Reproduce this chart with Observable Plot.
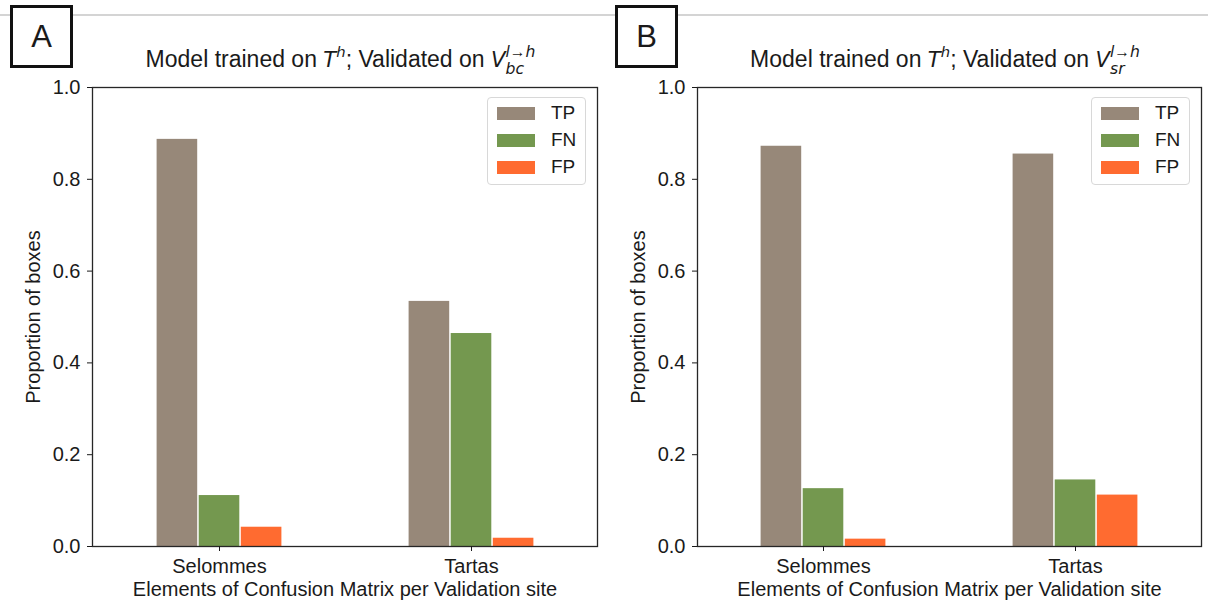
<!DOCTYPE html>
<html>
<head>
<meta charset="utf-8">
<script src="https://cdn.jsdelivr.net/npm/d3@7"></script>
<script src="https://cdn.jsdelivr.net/npm/@observablehq/plot@0.6"></script>
<style>
  html, body { margin: 0; padding: 0; background: #fff; }
  body { width: 1208px; height: 603px; position: relative; overflow: hidden;
         font-family: "Liberation Sans", Arial, sans-serif; color: #1a1a1a; }
  .rule { position: absolute; left: 0; top: 14px; width: 1208px; height: 2px; background: #d4d4d4; }
  .tag { position: absolute; top: 5px; width: 57px; height: 57px; border: 3px solid #111; background: #fff;
         font-size: 31px; line-height: 57px; text-align: center; }
  .panel { position: absolute; top: 0; }
  .title { position: absolute; top: 42px; font-size: 23px; white-space: nowrap; transform: translateX(-50%); }
  .title i { font-family: "DejaVu Sans", sans-serif; font-style: italic; font-size: 0.92em; }
  .title .h { font-size: 0.7em; vertical-align: 0.6em; }
  .stack { display: inline-flex; flex-direction: column; vertical-align: 0.62em; line-height: 1.1; font-size: 0.68em; }
  .stack i { font-size: 1em; }
  .legend { position: absolute; top: 97px; width: 97px; height: 86px; border: 1px solid #d8d8d8; border-radius: 4px;
            background: rgba(255,255,255,0.85); }
  .legend .row { position: absolute; left: 9px; height: 14px; display: flex; align-items: center; }
  .legend .sw { width: 38px; height: 13px; margin-right: 16px; }
  .legend .lab { font-size: 19px; }
</style>
</head>
<body>
<div class="rule"></div>
<div id="root"></div>
<script>
// Validation sites and confusion-matrix elements
const sites = ["Selommes", "Tartas"];
const series = ["TP", "FN", "FP"];
const colors = ["#978879", "#74984f", "#ff6b30"];

// Panel A: model trained on T^h, validated on V_bc (values per site)
const bcTP = [0.887, 0.534];
const bcFN = [0.111, 0.464];
const bcFP = [0.042, 0.018];

// Panel B: model trained on T^h, validated on V_sr (values per site)
const srTP = [0.872, 0.855];
const srFN = [0.126, 0.145];
const srFP = [0.016, 0.112];

const yTicks = [0, 0.2, 0.4, 0.6, 0.8, 1.0];

const root = document.getElementById("root");

function makePanel({tag, left, sub, values, marginRight}) {
  const rows = series.flatMap((s, i) =>
    sites.map((site, j) => ({site, series: s, value: values[i][j]})));

  // One bar per series, grouped around the site's tick
  const step = 42.1;
  const bars = series.map((s, i) =>
    Plot.barY(rows.filter(d => d.series === s), {
      x: "site", y: "value", fill: "series",
      dx: (i - 1) * step, insetLeft: 0.7, insetRight: 0.7
    }));

  const chart = Plot.plot({
    width: 600, height: 603,
    marginLeft: 92, marginRight, marginTop: 87, marginBottom: 57,
    style: {fontFamily: '"Liberation Sans", Arial, sans-serif', fontSize: "20px", color: "#1a1a1a", background: "transparent"},
    x: {domain: sites, paddingInner: 0.8334, paddingOuter: 0.4158},
    y: {domain: [0, 1]},
    color: {domain: series, range: colors},
    marks: [
      ...bars,
      Plot.frame({stroke: "#262626", strokeWidth: 1.3}),
      Plot.axisY({ticks: yTicks, tickFormat: ".1f", tickSize: 5, tickPadding: 7,
                  label: "Proportion of boxes", labelAnchor: "center", labelArrow: "none", labelOffset: 67}),
      Plot.axisX({tickSize: 5, tickPadding: 7,
                  label: "Elements of Confusion Matrix per Validation site", labelAnchor: "center", labelArrow: "none", labelOffset: 49})
    ]
  });

  const wrap = document.createElement("div");
  wrap.className = "panel";
  wrap.style.left = left + "px";
  wrap.appendChild(chart);

  const title = document.createElement("div");
  title.className = "title";
  title.style.left = (88 + (600 - 92 - marginRight) / 2) + "px";
  title.innerHTML = 'Model trained on <i>T</i><span class="h"><i>h</i></span>; Validated on <i>V</i>' +
    '<span class="stack"><span><i>l</i>→<i>h</i></span><span><i>' + sub + '</i></span></span>';
  wrap.appendChild(title);

  const legend = document.createElement("div");
  legend.className = "legend";
  legend.style.left = (600 - marginRight - 110) + "px";
  series.forEach((s, i) => {
    const row = document.createElement("div");
    row.className = "row";
    row.style.top = (8 + i * 27) + "px";
    row.innerHTML = '<div class="sw" style="background:' + colors[i] + '"></div><span class="lab">' + s + '</span>';
    legend.appendChild(row);
  });
  wrap.appendChild(legend);

  root.appendChild(wrap);

  const t = document.createElement("div");
  t.className = "tag";
  t.style.left = (left + 10) + "px";
  t.textContent = tag;
  root.appendChild(t);
}

makePanel({tag: "A", left: 0, sub: "bc", values: [bcTP, bcFN, bcFP], marginRight: 3});
makePanel({tag: "B", left: 605, sub: "sr", values: [srTP, srFN, srFP], marginRight: 4});
</script>
</body>
</html>
